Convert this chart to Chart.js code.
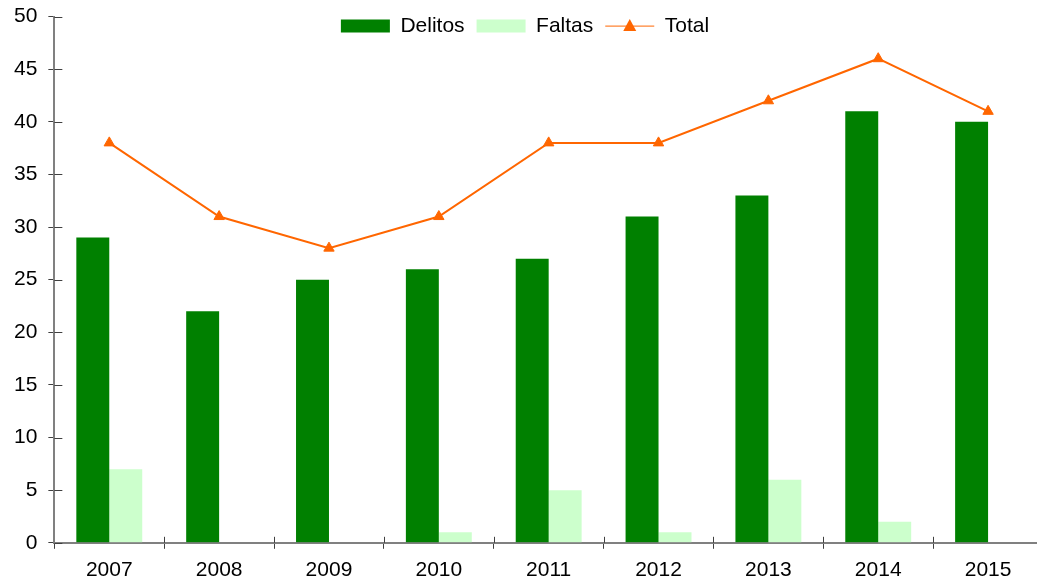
<!DOCTYPE html>
<html>
<head>
<meta charset="utf-8">
<script src="https://cdn.jsdelivr.net/npm/chart.js@4.4.1/dist/chart.umd.min.js"></script>
<style>
    body { margin: 0; overflow: hidden; background: #fff; }
    #wrap { width: 1050px; height: 601px; margin-top: -7px; }
</style>
</head>
<body>
<div id="wrap"><canvas id="chart"></canvas></div>
<script>
const years = ['2007', '2008', '2009', '2010', '2011', '2012', '2013', '2014', '2015'];
const delitos = [29, 22, 25, 26, 27, 31, 33, 41, 40];
const faltas = [7, 0, 0, 1, 5, 1, 6, 2, 0];
const total = [38, 31, 28, 31, 38, 38, 42, 46, 41];
const yTicks = [0, 5, 10, 15, 20, 25, 30, 35, 40, 45, 50];

const FONT = "'Liberation Sans', Arial, sans-serif";
const FSIZE = 21;
const LEG_SHIFT = 13;

// legend must not push the plot area down, and sits a bit higher
const legendNoSpace = {
    id: 'legendNoSpace',
    beforeLayout(chart) {
        const lg = chart.legend;
        if (lg && !lg._patched) {
            const fit = lg.fit;
            const draw = lg.draw;
            lg.fit = function () {
                fit.call(this);
                this._realH = this.height;
                this.height = 0;
            };
            lg.draw = function () {
                const h = this.height, t = this.top;
                this.top = t - LEG_SHIFT;
                this.height = this._realH;
                this.bottom = this.top + this.height;
                draw.call(this);
                this.top = t;
                this.height = h;
                this.bottom = t + h;
            };
            lg._patched = true;
        }
    }
};

// inner half of the crossing tick marks, plus the triangle on the Total legend line
const extras = {
    id: 'extras',
    afterDraw(chart) {
        const ctx = chart.ctx;
        const area = chart.chartArea;
        const x = chart.scales.x, y = chart.scales.y;
        ctx.save();
        ctx.strokeStyle = '#404040';
        ctx.lineWidth = 1;
        y.ticks.forEach((t, i) => {
            const py = Math.round(y.getPixelForTick(i)) + 0.5;
            ctx.beginPath();
            ctx.moveTo(area.left, py);
            ctx.lineTo(area.left + 8, py);
            ctx.stroke();
        });
        for (let i = 1; i < years.length; i++) {
            const px = Math.round((x.getPixelForValue(i - 1) + x.getPixelForValue(i)) / 2) + 0.5;
            ctx.beginPath();
            ctx.moveTo(px, area.bottom);
            ctx.lineTo(px, area.bottom - 6);
            ctx.stroke();
        }
        const hb = chart.legend.legendHitBoxes[2];
        if (hb) {
            const cx = hb.left + 49 / 2;
            const cy = hb.top - LEG_SHIFT + hb.height / 2;
            ctx.fillStyle = '#ff6600';
            ctx.beginPath();
            ctx.moveTo(cx, cy - 7);
            ctx.lineTo(cx + 6.5, cy + 5);
            ctx.lineTo(cx - 6.5, cy + 5);
            ctx.closePath();
            ctx.fill();
        }
        ctx.restore();
    }
};

new Chart(document.getElementById('chart'), {
    type: 'bar',
    data: {
        labels: years,
        datasets: [
            {
                type: 'line',
                label: 'Total',
                data: total,
                borderColor: '#ff6600',
                backgroundColor: '#ff6600',
                borderWidth: 2,
                pointStyle: 'triangle',
                pointRadius: 6,
                pointBorderWidth: 1,
                tension: 0,
                order: 0
            },
            {
                label: 'Delitos',
                data: delitos,
                backgroundColor: '#008000',
                borderWidth: 0,
                categoryPercentage: 0.6,
                barPercentage: 1.0,
                order: 1
            },
            {
                label: 'Faltas',
                data: faltas,
                backgroundColor: '#ccffcc',
                borderWidth: 0,
                categoryPercentage: 0.6,
                barPercentage: 1.0,
                order: 1
            }
        ]
    },
    options: {
        responsive: true,
        maintainAspectRatio: false,
        animation: false,
        layout: { padding: { left: 3, right: 3, top: 2, bottom: 2 } },
        plugins: {
            tooltip: { enabled: false },
            legend: {
                position: 'top',
                labels: {
                    font: { family: FONT, size: FSIZE },
                    color: '#000',
                    usePointStyle: true,
                    pointStyleWidth: 49,
                    boxHeight: 13,
                    padding: 12,
                    generateLabels(chart) {
                        const items = Chart.defaults.plugins.legend.labels.generateLabels(chart);
                        items.forEach(it => {
                            it.pointStyle = it.datasetIndex === 0 ? 'line' : 'rect';
                        });
                        // order: Delitos, Faltas, Total
                        return [items[1], items[2], items[0]];
                    }
                }
            }
        },
        scales: {
            x: {
                grid: { display: true, drawOnChartArea: false, tickLength: 6, color: '#404040', offset: true },
                border: { color: '#808080', width: 2 },
                ticks: { font: { family: FONT, size: FSIZE }, color: '#000', padding: 9, maxRotation: 0 }
            },
            y: {
                min: 0,
                max: 50,
                afterBuildTicks(scale) { scale.ticks = yTicks.map(v => ({ value: v })); },
                grid: { drawOnChartArea: false, tickLength: 6, color: '#404040' },
                border: { color: '#808080', width: 2 },
                ticks: { font: { family: FONT, size: FSIZE }, color: '#000', padding: 11 }
            }
        }
    },
    plugins: [legendNoSpace, extras]
});
</script>
</body>
</html>
